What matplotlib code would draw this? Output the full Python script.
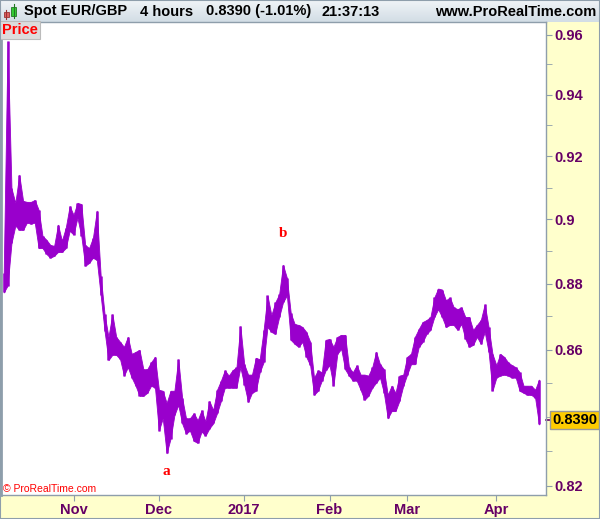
import numpy as np
import pandas as pd
import matplotlib
matplotlib.use("Agg")
import matplotlib.pyplot as plt
from matplotlib.patches import Rectangle
from matplotlib import transforms

plt.rcParams['font.family'] = ['Liberation Sans', 'DejaVu Sans']

# 4h EUR/GBP, daily high / low (one value per trading day)
dates = pd.bdate_range('2016-10-06', '2017-04-18')
high = [0.8834, 0.9577, 0.9098, 0.9052, 0.9141, 0.9058, 0.9055, 0.9055, 0.9061, 0.9030,
        0.8948, 0.8936, 0.8920, 0.8917, 0.8983, 0.8933, 0.8974, 0.9042, 0.9014, 0.9052,
        0.9048, 0.8920, 0.8910, 0.8942, 0.9027, 0.8824, 0.8707, 0.8638, 0.8707, 0.8638,
        0.8623, 0.8608, 0.8638, 0.8587, 0.8593, 0.8599, 0.8541, 0.8541, 0.8562, 0.8578,
        0.8480, 0.8477, 0.8441, 0.8477, 0.8477, 0.8571, 0.8456, 0.8396, 0.8396, 0.8411,
        0.8390, 0.8420, 0.8387, 0.8447, 0.8420, 0.8480, 0.8507, 0.8538, 0.8522, 0.8538,
        0.8547, 0.8671, 0.8556, 0.8525, 0.8525, 0.8575, 0.8571, 0.8659, 0.8764, 0.8704,
        0.8743, 0.8767, 0.8858, 0.8818, 0.8710, 0.8677, 0.8674, 0.8668, 0.8653, 0.8623,
        0.8516, 0.8538, 0.8532, 0.8629, 0.8632, 0.8608, 0.8638, 0.8644, 0.8644, 0.8547,
        0.8532, 0.8553, 0.8525, 0.8525, 0.8522, 0.8547, 0.8593, 0.8556, 0.8541, 0.8465,
        0.8492, 0.8471, 0.8522, 0.8525, 0.8578, 0.8587, 0.8638, 0.8662, 0.8683, 0.8689,
        0.8698, 0.8758, 0.8785, 0.8782, 0.8749, 0.8758, 0.8728, 0.8722, 0.8728, 0.8698,
        0.8698, 0.8659, 0.8674, 0.8689, 0.8737, 0.8668, 0.8587, 0.8553, 0.8587, 0.8578,
        0.8562, 0.8553, 0.8547, 0.8532, 0.8492, 0.8492, 0.8492, 0.8480, 0.8510]
low = [0.8773, 0.8794, 0.8926, 0.8980, 0.8967, 0.8967, 0.8990, 0.8986, 0.8990, 0.8910,
       0.8910, 0.8892, 0.8880, 0.8886, 0.8898, 0.8898, 0.8910, 0.8964, 0.8952, 0.9005,
       0.8948, 0.8855, 0.8864, 0.8880, 0.8873, 0.8764, 0.8656, 0.8568, 0.8584, 0.8584,
       0.8571, 0.8522, 0.8547, 0.8516, 0.8492, 0.8462, 0.8462, 0.8471, 0.8492, 0.8486,
       0.8360, 0.8396, 0.8294, 0.8336, 0.8405, 0.8435, 0.8381, 0.8351, 0.8360, 0.8330,
       0.8324, 0.8357, 0.8345, 0.8366, 0.8381, 0.8411, 0.8447, 0.8486, 0.8486, 0.8486,
       0.8486, 0.8547, 0.8495, 0.8444, 0.8471, 0.8477, 0.8532, 0.8562, 0.8668, 0.8653,
       0.8647, 0.8698, 0.8743, 0.8764, 0.8629, 0.8617, 0.8608, 0.8623, 0.8578, 0.8553,
       0.8465, 0.8477, 0.8507, 0.8538, 0.8553, 0.8492, 0.8587, 0.8602, 0.8541, 0.8522,
       0.8507, 0.8507, 0.8480, 0.8450, 0.8462, 0.8486, 0.8501, 0.8516, 0.8471, 0.8396,
       0.8417, 0.8417, 0.8447, 0.8492, 0.8525, 0.8556, 0.8556, 0.8608, 0.8623, 0.8647,
       0.8659, 0.8698, 0.8722, 0.8698, 0.8668, 0.8674, 0.8674, 0.8659, 0.8677, 0.8632,
       0.8608, 0.8614, 0.8638, 0.8617, 0.8653, 0.8593, 0.8477, 0.8516, 0.8522, 0.8525,
       0.8522, 0.8516, 0.8516, 0.8477, 0.8471, 0.8465, 0.8465, 0.8456, 0.8378]
last_price = 0.8390

y_major = [0.82, 0.86, 0.88, 0.9, 0.92, 0.94, 0.96]
y_major_labels = ['0.82', '0.86', '0.88', '0.9', '0.92', '0.94', '0.96']
y_minor = [0.83, 0.84, 0.85, 0.87, 0.89, 0.91, 0.93, 0.95]

purple = '#9900cc'
axis_txt = '#660066'
border = '#8e9eab'

x = np.arange(len(dates))
month_pos = []
month_labels = []
for i in range(1, len(dates)):
    if dates[i].month != dates[i - 1].month:
        month_pos.append(i)
        month_labels.append('2017' if dates[i].month == 1 else dates[i].strftime('%b'))

W, H = 600, 519
fig = plt.figure(figsize=(6, 5.19), dpi=100, facecolor='#ffffcc')

# title bar
tax = fig.add_axes([0, 1 - 22 / H, 1, 22 / H])
grad = np.linspace(0, 1, 50).reshape(-1, 1)
tax.imshow(grad, aspect='auto', cmap=matplotlib.colors.LinearSegmentedColormap.from_list(
    'tb', ['#f0f4f7', '#d2dde5']), extent=[0, 1, 0, 1])
tax.set_xlim(0, 1)
tax.set_ylim(0, 1)
tax.axis('off')
ty = 1 - 11.5 / H
fig.text(24 / W, ty, 'Spot EUR/GBP', fontsize=10.5, fontweight='bold', va='center')
fig.text(140 / W, ty, '4 hours', fontsize=10.5, fontweight='bold', va='center')
fig.text(206 / W, ty, '0.8390 (-1.01%)', fontsize=10.5, fontweight='bold', va='center')
fig.text(322 / W, ty, '21:37:13', fontsize=10.5, fontweight='bold', va='center')
fig.text(596 / W, ty, 'www.ProRealTime.com', fontsize=10.5, fontweight='bold',
         va='center', ha='right')
# little candle icon
fig.patches.append(Rectangle((3.5 / W, 1 - 17 / H), 5 / W, 5 / H, transform=fig.transFigure,
                             fc='#e06060', ec='#993333', lw=0.6))
fig.patches.append(Rectangle((11 / W, 1 - 16 / H), 5 / W, 9 / H, transform=fig.transFigure,
                             fc='#33cc33', ec='#227722', lw=0.6))
fig.lines.append(plt.Line2D([6 / W, 6 / W], [1 - 19 / H, 1 - 10 / H], transform=fig.transFigure,
                            color='#993333', lw=0.8))
fig.lines.append(plt.Line2D([13.5 / W, 13.5 / W], [1 - 18 / H, 1 - 4 / H], transform=fig.transFigure,
                            color='#227722', lw=0.8))

# main price panel
ax = fig.add_axes([1 / W, 24 / H, 545 / W, 473 / H])
ax.set_facecolor('white')
ax.fill_between(x, low, high, color=purple, lw=0.6)
ax.vlines(x, low, high, color=purple, lw=1.8)

ax.set_yscale('log')
ax.set_ylim(0.8174, 0.9642)
ax.set_xlim(-0.7, 139.8)
ax.yaxis.tick_right()
ax.yaxis.set_major_locator(matplotlib.ticker.FixedLocator(y_major))
ax.yaxis.set_major_formatter(matplotlib.ticker.FixedFormatter(y_major_labels))
ax.yaxis.set_minor_locator(matplotlib.ticker.FixedLocator(y_minor))
ax.yaxis.set_minor_formatter(matplotlib.ticker.NullFormatter())
ax.set_xticks(month_pos)
ax.set_xticklabels(month_labels)
ax.tick_params(axis='y', which='both', direction='out', length=4, color=border,
               labelcolor=axis_txt, labelsize=10.5, pad=2)
ax.tick_params(axis='x', direction='out', length=4, color=border,
               labelcolor=axis_txt, labelsize=10.5, pad=2)
for lab in ax.get_yticklabels() + ax.get_xticklabels():
    lab.set_fontweight('bold')
for s in ax.spines.values():
    s.set_color(border)
    s.set_linewidth(1.0)
ax.spines['left'].set_linewidth(2)

# last price marker
bl = transforms.blended_transform_factory(ax.transAxes, ax.transData)
ax.plot([1.0, 1.01], [last_price, last_price], transform=bl, color=axis_txt, lw=1.2,
        clip_on=False)
ax.text(1.011, last_price, '%.4f' % last_price, transform=bl, va='center', ha='left',
        fontsize=10.5, fontweight='bold', color='black',
        bbox=dict(boxstyle='square,pad=0.15', fc='#ffcc00', ec='#999999', lw=1))

# panel labels
ax.text(0.001, 0.9985, 'Price', transform=ax.transAxes, va='top', ha='left', color='#ff0000',
        fontsize=10.5, fontweight='bold',
        bbox=dict(boxstyle='square,pad=0.15', fc='#dcdcdc', ec='#bbbbbb', lw=0.8))
ax.text(0.004, 0.013, '\u00a9 ProRealTime.com', transform=ax.transAxes, va='center',
        ha='left', color='#ff0000', fontsize=7.5)

# wave labels
ax.text(72, 0.8956, 'b', color='#ff0000', fontsize=11, fontweight='bold',
        family='Liberation Serif', ha='center', va='center')
ax.text(42, 0.8241, 'a', color='#ff0000', fontsize=11, fontweight='bold',
        family='Liberation Serif', ha='center', va='center')

fig.patches.append(Rectangle((0, 0), 1, 1, transform=fig.transFigure, fill=False,
                             ec=border, lw=1.5))

fig.savefig('out.png', dpi=100, facecolor=fig.get_facecolor())
